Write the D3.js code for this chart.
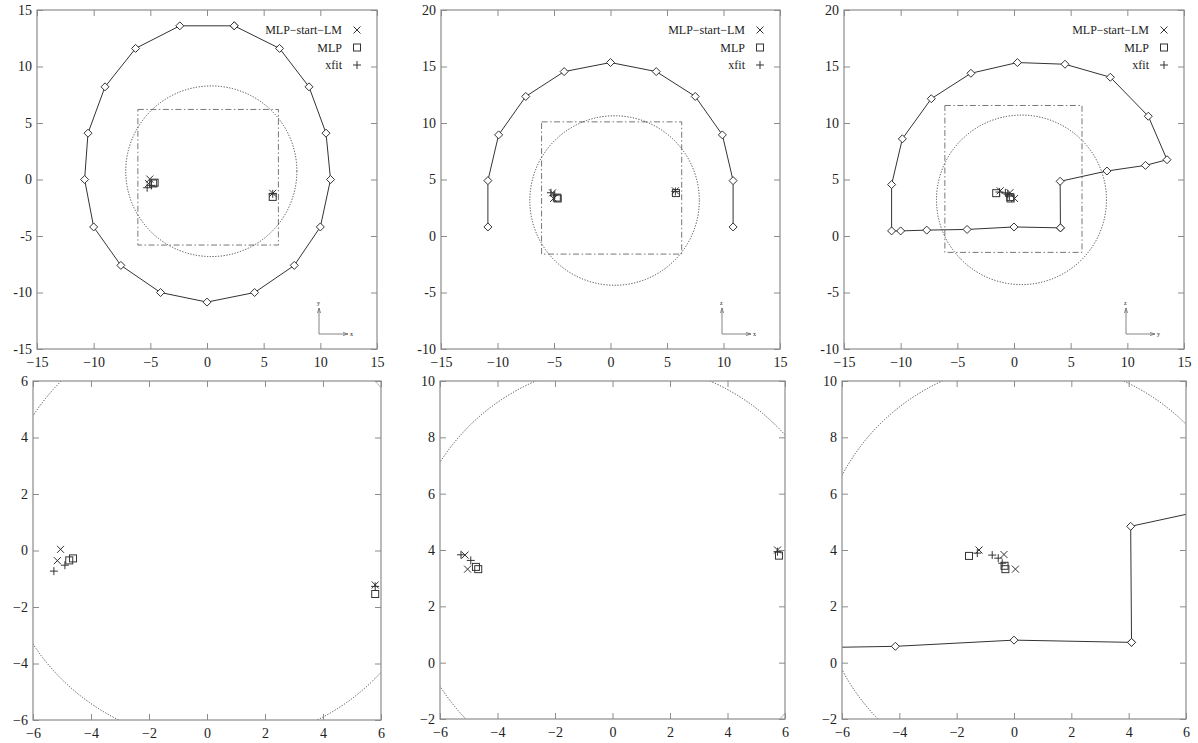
<!DOCTYPE html>
<html lang="en">
<head>
  <meta charset="UTF-8">
  <title>Fit comparison panels</title>
  <script src="https://d3js.org/d3.v7.min.js"></script>
  <style>
    body { margin: 0; background: #fff; }
    svg text { font-family: "Liberation Serif", "DejaVu Serif", serif; fill: #222; }
  </style>
</head>
<body>
  <script>
    // outlines (diamond polylines)
    const ring1 = [[2.4,13.6],[6.4,11.6],[9.0,8.2],[10.5,4.1],[10.9,0],[10.0,-4.2],[7.7,-7.6],[4.2,-10.0],[0,-10.85],[-4.1,-10.0],[-7.6,-7.6],[-10.0,-4.2],[-10.8,0],[-10.5,4.1],[-9.0,8.2],[-6.3,11.6],[-2.4,13.6],[2.4,13.6]];
    const arch2 = [[-10.85,0.8],[-10.85,4.9],[-9.9,8.95],[-7.5,12.35],[-4.1,14.55],[0,15.35],[4.05,14.55],[7.5,12.35],[9.9,8.95],[10.85,4.9],[10.85,0.8]];
    const hook3 = [[4.1,0.72],[4.07,4.84],[8.2,5.75],[11.6,6.25],[13.5,6.75],[11.85,10.6],[8.5,14.05],[4.5,15.2],[0.3,15.35],[-3.8,14.4],[-7.3,12.15],[-9.85,8.6],[-10.8,4.55],[-10.8,0.45],[-10.0,0.45],[-7.7,0.52],[-4.14,0.58],[0,0.8],[4.1,0.72]];

    // dotted circles [cx, cy, r] and dash-dot boxes [x0, x1, y0, y1]
    const circles = [[0.38,0.73,7.55],[0.36,3.14,7.5],[0.66,3.2,7.5]];
    const boxes = [[-6.1,6.3,-5.8,6.2],[-6.1,6.3,-1.6,10.1],[-6.1,6.0,-1.45,11.55]];

    // fitted positions
    const lm1 = [[-5.05,0.04],[-5.16,-0.36],[5.8,-1.22]];
    const mlp1 = [[-4.75,-0.35],[-4.62,-0.28],[5.8,-1.54]];
    const xfit1 = [[-5.28,-0.73],[-4.9,-0.52],[5.8,-1.27]];
    const lm2 = [[-5.13,3.82],[-5.04,3.32],[5.74,4.0]];
    const mlp2 = [[-4.75,3.4],[-4.67,3.32],[5.79,3.8]];
    const xfit2 = [[-5.27,3.83],[-4.93,3.63],[5.74,3.94]];
    const lm3 = [[-1.22,4.0],[-0.35,3.84],[0.05,3.32]];
    const mlp3 = [[-1.57,3.79],[-0.33,3.44],[-0.3,3.32]];
    const xfit3 = [[-1.28,3.89],[-0.76,3.82],[-0.55,3.71],[-0.41,3.53]];

    const legendNames = ["MLP\u2212start\u2212LM", "MLP", "xfit"];
    const legendSymbols = ["cross", "square", "plus"];

    // tick values per panel type
    const ticksWide = [-15, -10, -5, 0, 5, 10, 15];
    const ticksTallY = [-10, -5, 0, 5, 10, 15, 20];
    const ticksZoom = [-6, -4, -2, 0, 2, 4, 6];
    const ticksZoomY = [-2, 0, 2, 4, 6, 8, 10];

    const axisNames = [["y", "x"], ["z", "x"], ["z", "y"]];

    const width = 1198, height = 743;
    const serif = "'Liberation Serif', 'DejaVu Serif', serif";
    const svg = d3.select("body").append("svg")
      .attr("width", width).attr("height", height);

    // panel layout: box in pixels, domains, ticks
    const panels = [
      { box: [37, 377, 10, 349], xd: [-15, 15], yd: [-15, 15], xt: ticksWide, yt: ticksWide, k: 0, top: true },
      { box: [441, 780, 10, 349], xd: [-15, 15], yd: [-10, 20], xt: ticksWide, yt: ticksTallY, k: 1, top: true },
      { box: [844, 1184, 10, 349], xd: [-15, 15], yd: [-10, 20], xt: ticksWide, yt: ticksTallY, k: 2, top: true },
      { box: [33, 381, 381, 720], xd: [-6, 6], yd: [-6, 6], xt: ticksZoom, yt: ticksZoom, k: 0, top: false },
      { box: [440, 785, 381, 719], xd: [-6, 6], yd: [-2, 10], xt: ticksZoom, yt: ticksZoomY, k: 1, top: false },
      { box: [842, 1186, 381, 719], xd: [-6, 6], yd: [-2, 10], xt: ticksZoom, yt: ticksZoomY, k: 2, top: false }
    ];

    const outlines = [ring1, arch2, hook3];
    const series = [[lm1, mlp1, xfit1], [lm2, mlp2, xfit2], [lm3, mlp3, xfit3]];

    const frameColor = "#8c8c8c";

    function drawSymbol(g, kind, px, py, s) {
      if (kind === "cross") {
        g.append("path").attr("d", `M${px-s},${py-s}L${px+s},${py+s}M${px-s},${py+s}L${px+s},${py-s}`)
          .attr("stroke", "#333").attr("stroke-width", 1).attr("fill", "none");
      } else if (kind === "square") {
        g.append("rect").attr("x", px - s).attr("y", py - s).attr("width", 2 * s).attr("height", 2 * s)
          .attr("stroke", "#333").attr("stroke-width", 1).attr("fill", "none");
      } else {
        g.append("path").attr("d", `M${px-s-0.5},${py}L${px+s+0.5},${py}M${px},${py-s-0.5}L${px},${py+s+0.5}`)
          .attr("stroke", "#333").attr("stroke-width", 1).attr("fill", "none");
      }
    }

    panels.forEach((p, i) => {
      const [x0, x1, y0, y1] = p.box;
      const x = d3.scaleLinear().domain(p.xd).range([x0, x1]);
      const y = d3.scaleLinear().domain(p.yd).range([y1, y0]);
      const g = svg.append("g");

      g.append("clipPath").attr("id", "clip" + i)
        .append("rect").attr("x", x0).attr("y", y0).attr("width", x1 - x0).attr("height", y1 - y0);
      const plot = g.append("g").attr("clip-path", `url(#clip${i})`);

      // dash-dot box (overview panels only)
      if (p.top) {
        const b = boxes[p.k];
        plot.append("rect")
          .attr("x", x(b[0])).attr("y", y(b[3]))
          .attr("width", x(b[1]) - x(b[0])).attr("height", y(b[2]) - y(b[3]))
          .attr("fill", "none").attr("stroke", "#777").attr("stroke-width", 1)
          .attr("stroke-dasharray", "6,2.5,1.5,2.5");
      }

      // dotted circle
      const c = circles[p.k];
      plot.append("ellipse")
        .attr("cx", x(c[0])).attr("cy", y(c[1]))
        .attr("rx", x(c[0] + c[2]) - x(c[0])).attr("ry", y(c[1]) - y(c[1] + c[2]))
        .attr("fill", "none").attr("stroke", "#444").attr("stroke-width", 1)
        .attr("stroke-dasharray", "1.2,1.6");

      // outline with diamonds
      const line = d3.line().x(d => x(d[0])).y(d => y(d[1]));
      plot.append("path").datum(outlines[p.k]).attr("d", line)
        .attr("fill", "none").attr("stroke", "#333").attr("stroke-width", 1);
      plot.selectAll(".dia").data(outlines[p.k]).enter().append("path")
        .attr("d", d => { const px = x(d[0]), py = y(d[1]), s = 4;
          return `M${px},${py-s}L${px+s},${py}L${px},${py+s}L${px-s},${py}Z`; })
        .attr("fill", "#fff").attr("stroke", "#333").attr("stroke-width", 1);

      // fitted points
      series[p.k].forEach((pts, si) => {
        pts.forEach(d => drawSymbol(plot, legendSymbols[si], x(d[0]), y(d[1]), 3.5));
      });

      // axes: inward ticks on all sides
      const tk = 6;
      const fmtX = d => d3.format("")(d);
      const fmtY = p.top ? (d => String(d)) : (d => d3.format("")(d));
      g.append("g").attr("transform", `translate(0,${y1})`)
        .call(d3.axisBottom(x).tickValues(p.xt).tickSize(-tk).tickSizeOuter(0).tickPadding(8).tickFormat(fmtX));
      g.append("g").attr("transform", `translate(0,${y0})`)
        .call(d3.axisTop(x).tickValues(p.xt).tickSize(-tk).tickSizeOuter(0).tickFormat(""));
      g.append("g").attr("transform", `translate(${x0},0)`)
        .call(d3.axisLeft(y).tickValues(p.yt).tickSize(-tk).tickSizeOuter(0).tickPadding(5).tickFormat(fmtY));
      g.append("g").attr("transform", `translate(${x1},0)`)
        .call(d3.axisRight(y).tickValues(p.yt).tickSize(-tk).tickSizeOuter(0).tickFormat(""));
      g.selectAll(".domain").remove();
      g.selectAll(".tick line").attr("stroke", frameColor);
      g.selectAll(".tick text")
        .style("font-family", serif).style("font-size", "14px").attr("fill", "#222");

      g.append("rect").attr("x", x0).attr("y", y0).attr("width", x1 - x0).attr("height", y1 - y0)
        .attr("fill", "none").attr("stroke", frameColor).attr("stroke-width", 1.2);

      if (p.top) {
        // legend
        legendNames.forEach((name, li) => {
          const ly = 30 + li * 17.5;
          g.append("text").attr("x", x1 - 35).attr("y", ly + 4).attr("text-anchor", "end")
            .style("font-family", serif).style("font-size", "12px").text(name);
          drawSymbol(g, legendSymbols[li], x1 - 20, ly, 3.5);
        });

        // small orientation glyph
        const ax = x1 - 58, ay = y1 - 15;
        const gl = g.append("g").attr("stroke", "#777").attr("fill", "none").attr("stroke-width", 0.9);
        gl.append("path").attr("d", `M${ax},${ay}L${ax},${ay-26}M${ax-1.5},${ay-21}L${ax},${ay-26}L${ax+1.5},${ay-21}`);
        gl.append("path").attr("d", `M${ax},${ay}L${ax+29},${ay}M${ax+24},${ay-1.5}L${ax+29},${ay}L${ax+24},${ay+1.5}`);
        g.append("text").attr("x", ax - 2).attr("y", ay - 29).style("font-size", "6px").attr("fill", "#666").text(axisNames[p.k][0]);
        g.append("text").attr("x", ax + 31).attr("y", ay + 2).style("font-size", "6px").attr("fill", "#666").text(axisNames[p.k][1]);
      }
    });
  </script>
</body>
</html>
